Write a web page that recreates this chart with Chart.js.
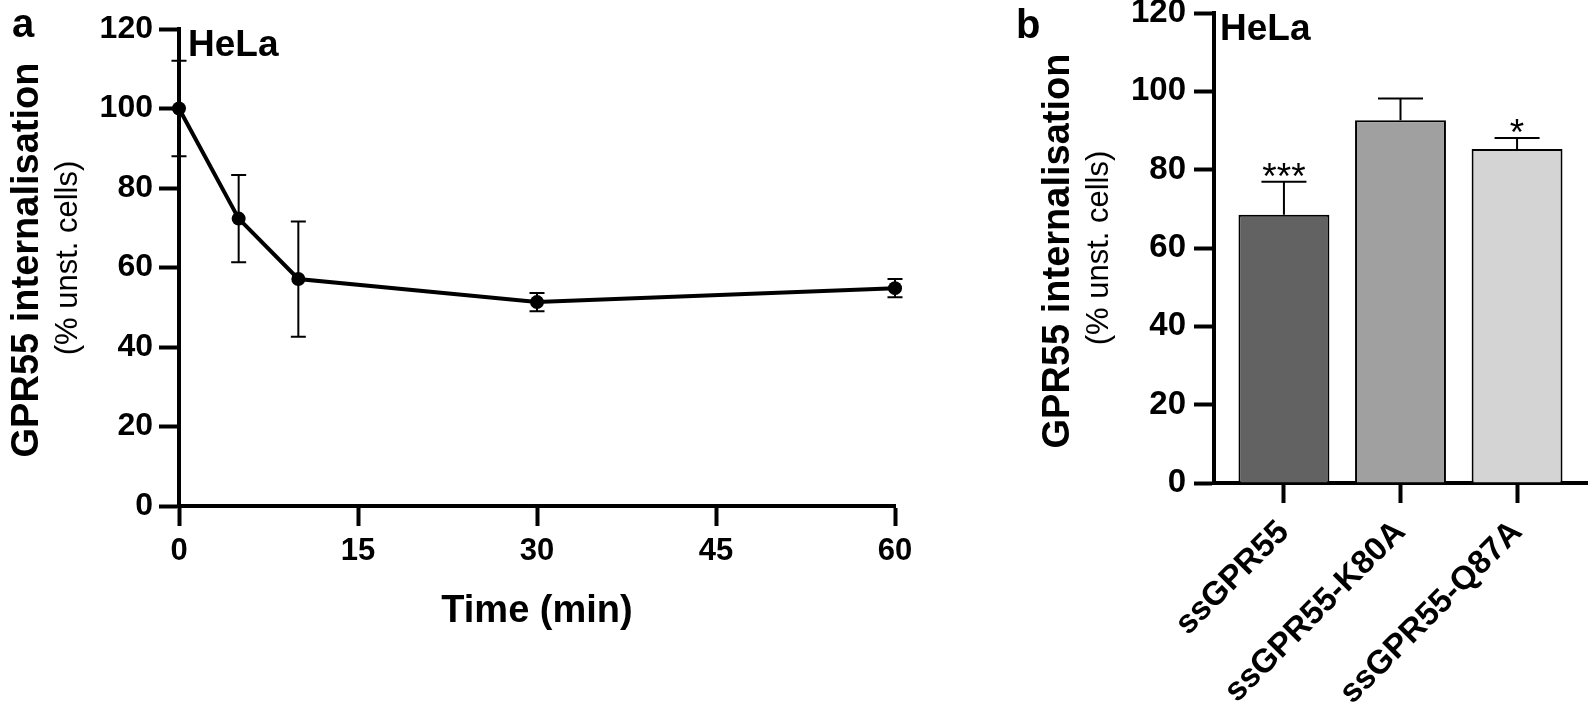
<!DOCTYPE html>
<html>
<head>
<meta charset="utf-8">
<script src="https://cdn.jsdelivr.net/npm/chart.js@4.4.1/dist/chart.umd.min.js"></script>
<style>
  html, body { margin: 0; padding: 0; background: #fff; }
  body { width: 1592px; height: 718px; position: relative; overflow: hidden; }
  #timeChart { position: absolute; left: 0; top: 0; }
  #barChart { position: absolute; left: 940px; top: 0; }
</style>
</head>
<body>
<canvas id="timeChart" width="940" height="718"></canvas>
<canvas id="barChart" width="652" height="718"></canvas>
<script>
// panel a: time course
const timePoints = [0, 5, 10, 30, 60];
const timeMeans = [100, 72.3, 57.1, 51.3, 54.8];
const timeErrors = [12, 11, 14.5, 2.3, 2.3];
const timeTicks = [0, 15, 30, 45, 60];

// panel b: mutants
const variants = ['ssGPR55', 'ssGPR55-K80A', 'ssGPR55-Q87A'];
const variantMeans = [68.5, 92.6, 85.3];
const variantErrors = [8.4, 5.6, 2.8];
const variantStars = ['***', '', '*'];
const variantColors = ['#626262', '#a0a0a0', '#d4d4d4'];

const yTicks = [0, 20, 40, 60, 80, 100, 120];

const FONT = '"Liberation Sans", Arial, Helvetica, sans-serif';
Chart.defaults.font.family = FONT;
Chart.defaults.color = '#000';

const errorBars = {
  id: 'errorBars',
  afterDatasetsDraw(chart) {
    const ctx = chart.ctx;
    const yScale = chart.scales.y;
    chart.data.datasets.forEach((ds, di) => {
      if (!ds.errors) return;
      const meta = chart.getDatasetMeta(di);
      meta.data.forEach((el, i) => {
        const v = ds.data[i].y;
        const e = ds.errors[i];
        const top = yScale.getPixelForValue(v + e);
        const bottom = yScale.getPixelForValue(ds.upOnly ? v : v - e);
        const half = ds.capWidth / 2;
        ctx.save();
        ctx.strokeStyle = '#000';
        ctx.lineWidth = ds.errorWidth;
        ctx.beginPath();
        ctx.moveTo(el.x, bottom);
        ctx.lineTo(el.x, top);
        ctx.moveTo(el.x - half, top);
        ctx.lineTo(el.x + half, top);
        if (!ds.upOnly) {
          ctx.moveTo(el.x - half, bottom);
          ctx.lineTo(el.x + half, bottom);
        }
        ctx.stroke();
        if (ds.stars && ds.stars[i]) {
          ctx.font = '37px ' + FONT;
          ctx.textAlign = 'center';
          ctx.textBaseline = 'alphabetic';
          ctx.fillStyle = '#000';
          ctx.fillText(ds.stars[i], el.x, top + 7);
        }
        ctx.restore();
      });
    });
  }
};

const notes = {
  id: 'notes',
  afterDraw(chart, args, opts) {
    const ctx = chart.ctx;
    (opts.items || []).forEach(n => {
      ctx.save();
      ctx.font = n.font;
      ctx.fillStyle = '#000';
      ctx.textAlign = n.align || 'left';
      ctx.textBaseline = 'alphabetic';
      ctx.translate(n.x, n.y);
      if (n.rotate) ctx.rotate(n.rotate);
      ctx.fillText(n.text, 0, 0);
      ctx.restore();
    });
  }
};

function axisStyle(size) {
  return {
    border: { display: true, color: '#000', width: 4 },
    grid: { display: true, drawOnChartArea: false, drawTicks: true, tickLength: 20, tickWidth: 4, tickColor: '#000', offset: false },
    ticks: { font: { size: size, weight: 'bold' }, color: '#000' }
  };
}

const bold = s => 'bold ' + s + 'px ' + FONT;
const plain = s => s + 'px ' + FONT;

const ax = axisStyle(31);
const ay = axisStyle(32);
new Chart(document.getElementById('timeChart'), {
  type: 'line',
  data: {
    datasets: [{
      data: timePoints.map((t, i) => ({ x: t, y: timeMeans[i] })),
      borderColor: '#000',
      borderWidth: 4,
      pointRadius: 7,
      pointBackgroundColor: '#000',
      pointBorderWidth: 0,
      tension: 0,
      clip: false,
      errors: timeErrors,
      capWidth: 15,
      errorWidth: 2
    }]
  },
  options: {
    responsive: false,
    animation: false,
    devicePixelRatio: 1,
    events: [],
    layout: { padding: { top: 29, right: 45, left: 0, bottom: 0 } },
    plugins: {
      legend: { display: false },
      tooltip: { enabled: false },
      notes: {
        items: [
          { text: 'a', font: bold(40), x: 12, y: 37 },
          { text: 'HeLa', font: bold(37), x: 188, y: 56 },
          { text: 'GPR55 internalisation', font: bold(38), x: 38, y: 260, align: 'center', rotate: -Math.PI / 2 },
          { text: '(% unst. cells)', font: plain(31), x: 77, y: 258, align: 'center', rotate: -Math.PI / 2 },
          { text: 'Time (min)', font: bold(38), x: 537, y: 622, align: 'center' }
        ]
      }
    },
    scales: {
      x: {
        type: 'linear', min: 0, max: 60,
        afterBuildTicks: s => { s.ticks = timeTicks.map(v => ({ value: v })); },
        afterFit: s => { s.height = 212; s.paddingLeft = 0; s.paddingRight = 0; },
        border: ax.border, grid: ax.grid,
        ticks: Object.assign(ax.ticks, { padding: 7, maxRotation: 0 })
      },
      y: {
        type: 'linear', min: 0, max: 120,
        afterBuildTicks: s => { s.ticks = yTicks.map(v => ({ value: v })); },
        afterFit: s => { s.width = 179; s.paddingTop = 0; s.paddingBottom = 0; },
        border: ay.border, grid: ay.grid,
        ticks: Object.assign(ay.ticks, { padding: 6 })
      }
    }
  },
  plugins: [errorBars, notes]
});

const bx = axisStyle(33);
const by = axisStyle(33);
new Chart(document.getElementById('barChart'), {
  type: 'bar',
  data: {
    datasets: [{
      data: variants.map((v, i) => ({ x: i, y: variantMeans[i] })),
      backgroundColor: variantColors,
      borderColor: '#000',
      borderWidth: 2,
      categoryPercentage: 1,
      barPercentage: 0.78,
      errors: variantErrors,
      upOnly: true,
      capWidth: 45,
      errorWidth: 2,
      stars: variantStars
    }]
  },
  options: {
    responsive: false,
    animation: false,
    devicePixelRatio: 1,
    events: [],
    layout: { padding: { top: 13, right: 5, left: 0, bottom: 0 } },
    plugins: {
      legend: { display: false },
      tooltip: { enabled: false },
      notes: {
        items: [
          { text: 'b', font: bold(40), x: 76, y: 38 },
          { text: 'HeLa', font: bold(37), x: 280, y: 40 },
          { text: 'GPR55 internalisation', font: bold(38), x: 129, y: 251, align: 'center', rotate: -Math.PI / 2 },
          { text: '(% unst. cells)', font: plain(31), x: 168, y: 248, align: 'center', rotate: -Math.PI / 2 }
        ]
      }
    },
    scales: {
      x: {
        type: 'linear', min: -0.6, max: 2.6, offset: false,
        afterBuildTicks: s => { s.ticks = variants.map((v, i) => ({ value: i })); },
        afterFit: s => { s.height = 235; s.paddingLeft = 0; s.paddingRight = 0; },
        border: bx.border, grid: bx.grid,
        ticks: Object.assign(bx.ticks, {
          callback: v => variants[v],
          minRotation: 45, maxRotation: 45, autoSkip: false, padding: 10
        })
      },
      y: {
        type: 'linear', min: 0, max: 120,
        afterBuildTicks: s => { s.ticks = yTicks.map(v => ({ value: v })); },
        afterFit: s => { s.width = 274; s.paddingTop = 0; s.paddingBottom = 0; },
        border: by.border, grid: by.grid,
        ticks: Object.assign(by.ticks, { padding: 8 })
      }
    }
  },
  plugins: [errorBars, notes]
});
</script>
</body>
</html>
